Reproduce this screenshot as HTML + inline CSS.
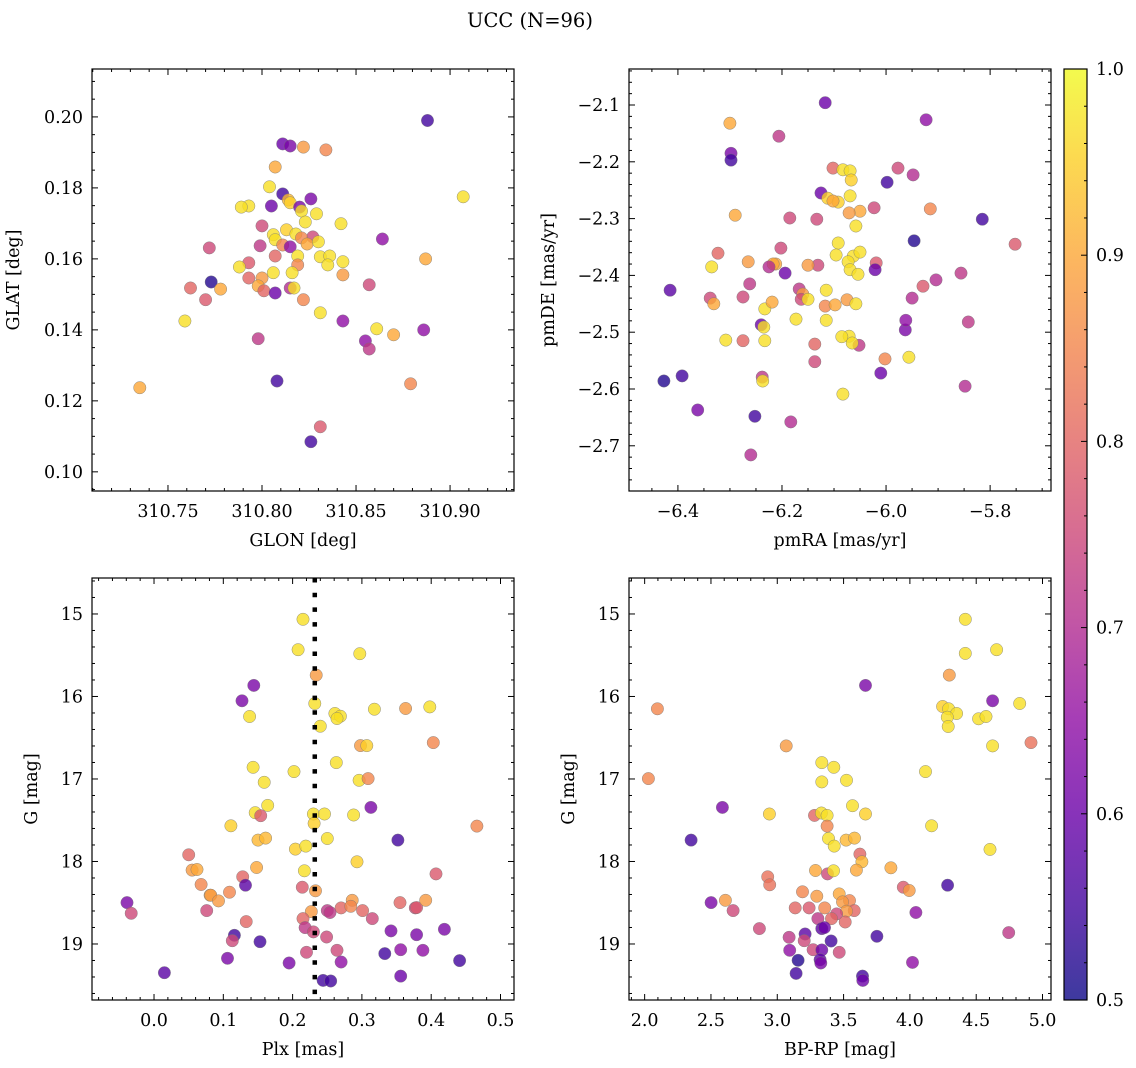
<!DOCTYPE html>
<html><head><meta charset="utf-8"><style>
html,body{margin:0;padding:0;background:#fff;}
svg{display:block;font-family:"DejaVu Serif","Liberation Serif",serif;}
</style></head><body>
<svg id="fig" width="1136" height="1068" viewBox="0 0 1136 1068" xmlns="http://www.w3.org/2000/svg">
<defs>
<linearGradient id="plasma" x1="0" y1="1" x2="0" y2="0">
<stop offset="0" stop-color="#0d0887"/><stop offset="0.1" stop-color="#41049d"/><stop offset="0.2" stop-color="#6a00a8"/><stop offset="0.3" stop-color="#8f0da4"/><stop offset="0.4" stop-color="#b12a90"/><stop offset="0.5" stop-color="#cc4778"/><stop offset="0.6" stop-color="#e16462"/><stop offset="0.7" stop-color="#f2844b"/><stop offset="0.8" stop-color="#fca636"/><stop offset="0.9" stop-color="#fcce25"/><stop offset="1" stop-color="#f0f921"/>
</linearGradient>
</defs>
<text x="530" y="27" font-size="19.5" text-anchor="middle">UCC (N=96)</text>
</svg>
<script>
// ---- data ----
const glon = [310.888,310.811,310.815,310.822,310.834,310.807,310.907,310.804,310.811,310.826,310.814,310.793,310.789,310.805,310.815,310.820,310.829,310.821,310.823,310.800,310.842,310.813,310.818,310.806,310.807,310.827,310.821,310.799,310.772,310.811,310.815,310.824,310.830,310.864,310.819,310.831,310.836,310.835,310.843,310.793,310.788,310.807,310.819,310.806,310.816,310.793,310.800,310.773,310.762,310.778,310.798,310.801,310.815,310.817,310.843,310.857,310.887,310.807,310.822,310.770,310.759,310.831,310.843,310.861,310.855,310.857,310.870,310.886,310.798,310.735,310.808,310.879,310.831,310.826];
const glat = [0.199,0.1924,0.1918,0.1915,0.1907,0.1859,0.1775,0.1803,0.1783,0.1769,0.1766,0.1749,0.1746,0.1749,0.1758,0.1746,0.1727,0.1735,0.1704,0.1693,0.1699,0.1682,0.1670,0.1668,0.1654,0.1662,0.1659,0.1637,0.1631,0.1639,0.1634,0.1642,0.1648,0.1656,0.1608,0.1606,0.1608,0.1583,0.1592,0.1589,0.1577,0.1608,0.1583,0.1561,0.1561,0.1546,0.1546,0.1535,0.1518,0.1515,0.1524,0.1510,0.1518,0.1518,0.1555,0.1527,0.1600,0.1504,0.1485,0.1485,0.1425,0.1448,0.1425,0.1403,0.1369,0.1346,0.1386,0.1400,0.1375,0.1237,0.1256,0.1248,0.1127,0.1085];
const prob1 = [0.55,0.60,0.62,0.88,0.85,0.90,0.97,0.97,0.55,0.62,0.92,0.97,0.97,0.60,0.95,0.62,0.97,0.97,0.97,0.75,0.97,0.95,0.97,0.97,0.97,0.75,0.85,0.72,0.75,0.85,0.65,0.90,0.97,0.65,0.97,0.97,0.97,0.97,0.97,0.78,0.97,0.80,0.85,0.97,0.97,0.80,0.88,0.52,0.80,0.90,0.90,0.80,0.70,0.97,0.88,0.75,0.90,0.60,0.85,0.78,0.97,0.97,0.65,0.97,0.65,0.72,0.90,0.65,0.72,0.90,0.55,0.85,0.78,0.55];

const pmra = [-6.117,-5.923,-6.206,-6.300,-6.298,-6.298,-6.102,-5.977,-5.948,-6.083,-6.069,-6.067,-5.998,-6.125,-6.112,-6.069,-6.092,-5.915,-6.290,-6.102,-6.050,-6.071,-6.133,-6.023,-6.185,-5.815,-6.058,-5.946,-5.752,-6.323,-6.092,-6.096,-6.202,-6.063,-6.050,-6.212,-6.265,-6.217,-6.225,-6.335,-6.131,-6.150,-6.073,-6.019,-6.069,-5.904,-5.856,-5.929,-6.054,-6.021,-6.194,-6.415,-6.262,-6.167,-6.160,-6.115,-5.950,-6.275,-6.163,-6.338,-6.331,-5.842,-6.233,-6.219,-6.117,-6.075,-6.150,-6.240,-6.115,-5.963,-5.962,-6.235,-6.173,-6.098,-6.058,-6.137,-6.233,-6.275,-6.052,-6.071,-6.065,-6.308,-5.956,-6.002,-6.010,-6.238,-6.085,-6.137,-6.427,-6.392,-5.848,-6.237,-6.083,-6.362,-6.252,-6.183,-6.260];
const pmde = [-2.096,-2.126,-2.155,-2.132,-2.185,-2.197,-2.211,-2.211,-2.223,-2.214,-2.216,-2.232,-2.236,-2.255,-2.264,-2.260,-2.271,-2.283,-2.294,-2.269,-2.287,-2.290,-2.301,-2.281,-2.299,-2.301,-2.313,-2.339,-2.345,-2.361,-2.343,-2.364,-2.352,-2.366,-2.359,-2.380,-2.376,-2.380,-2.385,-2.385,-2.382,-2.382,-2.376,-2.378,-2.390,-2.408,-2.396,-2.419,-2.398,-2.390,-2.396,-2.426,-2.415,-2.424,-2.433,-2.426,-2.440,-2.438,-2.442,-2.440,-2.450,-2.482,-2.459,-2.447,-2.454,-2.443,-2.442,-2.487,-2.479,-2.496,-2.479,-2.491,-2.477,-2.452,-2.450,-2.521,-2.515,-2.515,-2.523,-2.507,-2.519,-2.514,-2.544,-2.547,-2.572,-2.579,-2.508,-2.552,-2.586,-2.577,-2.595,-2.586,-2.609,-2.637,-2.648,-2.658,-2.716];
const prob2 = [0.60,0.65,0.72,0.90,0.62,0.55,0.80,0.75,0.70,0.97,0.97,0.95,0.55,0.60,0.95,0.97,0.95,0.85,0.90,0.90,0.90,0.88,0.75,0.75,0.75,0.55,0.97,0.52,0.78,0.80,0.97,0.97,0.75,0.97,0.97,0.90,0.88,0.90,0.70,0.97,0.75,0.88,0.97,0.78,0.97,0.70,0.72,0.78,0.97,0.60,0.60,0.58,0.72,0.72,0.88,0.97,0.70,0.75,0.75,0.75,0.90,0.72,0.97,0.90,0.85,0.88,0.97,0.60,0.97,0.62,0.65,0.97,0.97,0.90,0.97,0.80,0.97,0.80,0.72,0.97,0.97,0.97,0.97,0.85,0.60,0.72,0.97,0.75,0.52,0.55,0.70,0.97,0.97,0.62,0.55,0.70,0.70];

const plx = [0.215,0.208,0.297,0.234,0.144,0.127,0.232,0.138,0.261,0.269,0.264,0.240,0.318,0.363,0.398,0.403,0.298,0.307,0.143,0.202,0.263,0.159,0.296,0.309,0.313,0.164,0.146,0.154,0.230,0.246,0.288,0.231,0.111,0.466,0.352,0.150,0.161,0.250,0.204,0.219,0.050,0.293,0.055,0.062,0.148,0.217,0.407,0.128,0.132,0.214,0.068,0.081,0.082,0.093,0.109,0.233,-0.039,-0.033,0.076,0.286,0.270,0.284,0.301,0.355,0.377,0.379,0.392,0.227,0.250,0.254,0.315,0.215,0.133,0.218,0.230,0.249,0.342,0.379,0.419,0.116,0.113,0.153,0.220,0.264,0.356,0.388,0.333,0.106,0.195,0.270,0.441,0.015,0.244,0.255,0.356];
const gPlx = [15.065,15.433,15.482,15.741,15.866,16.053,16.085,16.243,16.206,16.239,16.267,16.360,16.154,16.146,16.126,16.559,16.595,16.595,16.858,16.911,16.802,17.040,17.016,16.996,17.344,17.320,17.409,17.445,17.425,17.425,17.437,17.538,17.567,17.571,17.741,17.741,17.717,17.721,17.850,17.814,17.919,18.004,18.105,18.097,18.073,18.113,18.150,18.186,18.287,18.312,18.279,18.409,18.409,18.478,18.372,18.356,18.498,18.628,18.595,18.470,18.563,18.543,18.595,18.498,18.563,18.559,18.470,18.607,18.595,18.619,18.692,18.692,18.729,18.802,18.854,18.915,18.842,18.887,18.822,18.895,18.960,18.972,19.101,19.077,19.069,19.077,19.117,19.174,19.231,19.219,19.202,19.348,19.441,19.449,19.389];
const prob3 = [0.97,0.97,0.97,0.88,0.62,0.62,0.97,0.97,0.97,0.97,0.97,0.97,0.97,0.88,0.97,0.85,0.88,0.95,0.97,0.97,0.97,0.97,0.97,0.85,0.62,0.97,0.97,0.78,0.97,0.97,0.97,0.95,0.95,0.85,0.55,0.92,0.92,0.97,0.95,0.97,0.80,0.95,0.88,0.90,0.90,0.97,0.78,0.80,0.58,0.78,0.85,0.90,0.88,0.88,0.85,0.88,0.62,0.75,0.75,0.88,0.80,0.85,0.80,0.80,0.75,0.78,0.88,0.88,0.72,0.72,0.75,0.80,0.80,0.72,0.75,0.75,0.62,0.62,0.62,0.55,0.75,0.55,0.75,0.75,0.65,0.65,0.55,0.62,0.62,0.65,0.55,0.58,0.55,0.55,0.60];
const meanPlx = 0.232;

const bprp = [4.418,4.418,4.654,4.297,3.665,2.096,4.624,4.828,4.247,4.292,4.352,4.282,4.289,4.518,4.574,4.624,4.913,3.067,3.336,3.426,3.336,3.522,4.118,2.028,2.586,2.941,3.567,3.665,3.281,3.333,3.376,3.376,4.164,2.350,3.386,3.429,3.519,3.582,4.604,3.623,3.638,3.597,3.857,3.288,3.379,3.424,2.928,2.943,4.284,3.950,3.995,3.190,3.298,3.467,3.545,3.492,2.609,2.501,2.667,3.135,3.240,3.358,3.580,3.522,3.447,4.045,3.306,3.409,3.512,2.865,3.336,3.356,3.751,4.745,3.089,3.210,3.203,3.406,3.270,3.336,3.467,3.094,3.157,3.323,3.328,4.020,3.142,3.643,3.645];
const gCmd = [15.065,15.478,15.433,15.741,15.866,16.150,16.053,16.085,16.121,16.150,16.206,16.251,16.364,16.271,16.243,16.599,16.559,16.599,16.802,16.858,17.036,17.016,16.911,16.996,17.344,17.425,17.324,17.425,17.441,17.413,17.441,17.571,17.567,17.741,17.721,17.814,17.741,17.717,17.854,17.911,18.004,18.105,18.077,18.109,18.150,18.113,18.186,18.283,18.287,18.312,18.352,18.368,18.421,18.393,18.474,18.490,18.470,18.498,18.595,18.563,18.563,18.563,18.595,18.603,18.636,18.619,18.692,18.692,18.733,18.814,18.814,18.802,18.907,18.862,18.919,18.879,18.960,18.964,19.069,19.073,19.101,19.077,19.198,19.190,19.231,19.223,19.356,19.389,19.441];
const prob4 = [0.97,0.97,0.97,0.88,0.62,0.85,0.62,0.97,0.95,0.97,0.97,0.97,0.97,0.97,0.97,0.97,0.82,0.88,0.97,0.97,0.97,0.97,0.97,0.85,0.62,0.95,0.97,0.95,0.80,0.97,0.97,0.85,0.97,0.55,0.97,0.97,0.92,0.92,0.97,0.80,0.92,0.90,0.90,0.90,0.75,0.97,0.82,0.82,0.55,0.78,0.88,0.85,0.88,0.90,0.85,0.88,0.88,0.62,0.75,0.80,0.78,0.85,0.80,0.88,0.75,0.65,0.72,0.80,0.80,0.75,0.58,0.60,0.55,0.72,0.72,0.58,0.75,0.55,0.75,0.60,0.75,0.65,0.52,0.58,0.62,0.65,0.55,0.55,0.60];

const cbTicks = [0.5,0.6,0.7,0.8,0.9,1.0];

// ---- helpers ----
const NS = 'http://www.w3.org/2000/svg';
const fig = document.getElementById('fig');
const FS = 17.5;
const stops = [[13,8,135],[65,4,157],[106,0,168],[143,13,164],[177,42,144],[204,71,120],[225,100,98],[242,132,75],[252,166,54],[252,206,37],[240,249,33]];
function plasma(p){
  let t = Math.max(0, Math.min(1, (p-0.5)/0.5))*10;
  const i = Math.min(9, Math.floor(t)), f = t - i;
  const a = stops[i], b = stops[i+1];
  return 'rgb(' + [0,1,2].map(k => Math.round(a[k]+(b[k]-a[k])*f)).join(',') + ')';
}
function mk(tag, attrs, parent){
  const e = document.createElementNS(NS, tag);
  for (const k in attrs) e.setAttribute(k, attrs[k]);
  (parent||fig).appendChild(e);
  return e;
}
function fmt(v, d){ const s = v.toFixed(d); return s.replace('-', '\u2212'); }

function panel(cfg, xs, ys, ps, name){
  const g = mk('g', {});
  
  
  const {L,T,W,H,x0,x1,y0,y1} = cfg;
  const sx = v => L + (v - x0)/(x1 - x0)*W;
  const sy = v => T + (v - y0)/(y1 - y0)*H;
  const pts = mk('g', {}, g);
  
  
  for (let i = 0; i < xs.length; i++){
    const c = mk('circle', {cx: sx(xs[i]).toFixed(1), cy: sy(ys[i]).toFixed(1), r: 6.2, fill: plasma(ps[i]), 'fill-opacity': 0.8, stroke: '#777', 'stroke-width': 0.5, 'stroke-opacity': 0.8}, pts);
    
    
  }
  if (cfg.vline !== undefined){
    const vl = mk('line', {x1: sx(cfg.vline), x2: sx(cfg.vline), y1: T, y2: T+H, stroke: '#000', 'stroke-width': 4.5, 'stroke-dasharray': '4.5 10.2'}, g);
    
    
  }
  const fr = mk('rect', {x: L, y: T, width: W, height: H, fill: 'none', stroke: '#000', 'stroke-width': 1.2}, g);
  
  
  const tk = mk('g', {stroke: '#000', 'stroke-width': 1}, g);
  const eps = 1e-9;
  const nMinX = Math.ceil(x0/cfg.xmin - eps), nMaxX = Math.floor(x1/cfg.xmin + eps);
  for (let n = nMinX; n <= nMaxX; n++){
    const v = n*cfg.xmin, px = sx(v);
    const major = Math.abs(v/cfg.xmaj - Math.round(v/cfg.xmaj)) < 1e-6;
    const len = major ? 6 : 3;
    mk('line', {x1: px, x2: px, y1: T+H, y2: T+H-len}, tk);
    mk('line', {x1: px, x2: px, y1: T, y2: T+len}, tk);
    if (major){
      const t = mk('text', {x: px, y: T+H+26, 'font-size': FS, 'text-anchor': 'middle'}, g);
      
      
      t.textContent = fmt(v, cfg.xd);
    }
  }
  const lo = Math.min(y0,y1), hi = Math.max(y0,y1);
  const nMinY = Math.ceil(lo/cfg.ymin - eps), nMaxY = Math.floor(hi/cfg.ymin + eps);
  for (let n = nMinY; n <= nMaxY; n++){
    const v = n*cfg.ymin, py = sy(v);
    const major = Math.abs(v/cfg.ymaj - Math.round(v/cfg.ymaj)) < 1e-6;
    const len = major ? 6 : 3;
    mk('line', {x1: L, x2: L+len, y1: py, y2: py}, tk);
    mk('line', {x1: L+W, x2: L+W-len, y1: py, y2: py}, tk);
    if (major){
      const t = mk('text', {x: L-9, y: py+6, 'font-size': FS, 'text-anchor': 'end'}, g);
      
      
      t.textContent = fmt(v, cfg.yd);
    }
  }
  const xl = mk('text', {x: L+W/2, y: T+H+55, 'font-size': FS, 'text-anchor': 'middle'}, g);
  
  
  xl.textContent = cfg.xlabel;
  const yl = mk('text', {x: 0, y: 0, 'font-size': FS, 'text-anchor': 'middle', transform: 'translate(' + cfg.ylx + ',' + (T+H/2) + ') rotate(-90)'}, g);
  
  
  yl.textContent = cfg.ylabel;
}

panel({L:92,T:69,W:422,H:422,x0:310.7096,x1:310.934,y0:0.2135,y1:0.0946,xmaj:0.05,xmin:0.01,ymaj:0.02,ymin:0.005,xd:2,yd:2,xlabel:'GLON [deg]',ylabel:'GLAT [deg]',ylx:19}, glon, glat, prob1, 'panel-glon-glat');
panel({L:629,T:69,W:422,H:422,x0:-6.494,x1:-5.683,y0:-2.0366,y1:-2.7796,xmaj:0.2,xmin:0.05,ymaj:0.1,ymin:0.02,xd:1,yd:1,xlabel:'pmRA [mas/yr]',ylabel:'pmDE [mas/yr]',ylx:554}, pmra, pmde, prob2, 'panel-proper-motion');
panel({L:92,T:578,W:422,H:422,x0:-0.0895,x1:0.5195,y0:14.564,y1:19.679,xmaj:0.1,xmin:0.02,ymaj:1,ymin:0.2,xd:1,yd:0,xlabel:'Plx [mas]',ylabel:'G [mag]',ylx:37,vline:meanPlx}, plx, gPlx, prob3, 'panel-plx-g');
panel({L:629,T:578,W:422,H:422,x0:1.882,x1:5.064,y0:14.564,y1:19.679,xmaj:0.5,xmin:0.1,ymaj:1,ymin:0.2,xd:1,yd:0,xlabel:'BP-RP [mag]',ylabel:'G [mag]',ylx:574}, bprp, gCmd, prob4, 'panel-cmd');

// colorbar
const cb = mk('g', {});


const cbT = 69, cbB = 1000, cbL = 1064, cbW = 23;
mk('rect', {x: cbL, y: cbT, width: cbW, height: cbB-cbT, fill: 'url(#plasma)', 'fill-opacity': 0.8}, cb);
mk('rect', {x: cbL, y: cbT, width: cbW, height: cbB-cbT, fill: 'none', stroke: '#000', 'stroke-width': 1.2}, cb);
const cy = v => cbB - (v-0.5)/0.5*(cbB-cbT);
for (let v = 0.5; v <= 1.0001; v += 0.02){
  const major = Math.abs(v*10 - Math.round(v*10)) < 1e-6;
  mk('line', {x1: cbL+cbW, x2: cbL+cbW-(major?6:3), y1: cy(v), y2: cy(v), stroke: '#000', 'stroke-width': 1}, cb);
}
cbTicks.forEach(v => {
  const t = mk('text', {x: cbL+cbW+9, y: cy(v)+6, 'font-size': FS}, cb);
  
  
  t.textContent = v.toFixed(1);
});
</script>
</body></html>
